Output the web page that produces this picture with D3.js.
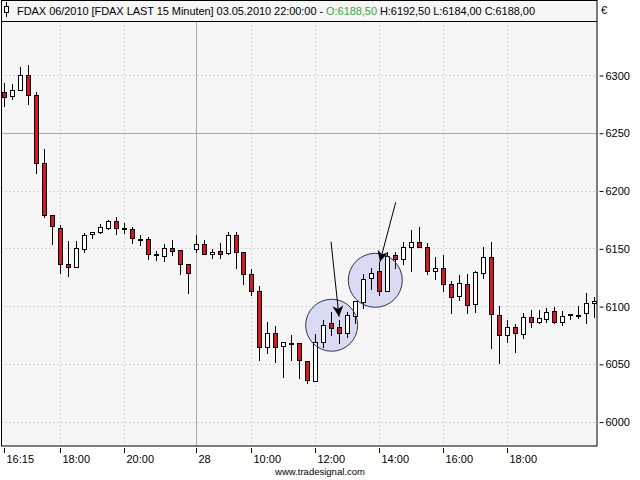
<!DOCTYPE html>
<html><head><meta charset="utf-8">
<script src="https://cdn.jsdelivr.net/npm/d3@7"></script>
<style>
body{margin:0;background:#fff}
svg{display:block}
text{font-family:"Liberation Sans",Arial,sans-serif;font-size:11px;fill:#000}
</style>
</head><body>
<svg id="c" width="640" height="480"></svg>
<script>
// ---- data ----
const times = [
 "27 16:15","27 16:30","27 16:45","27 17:00","27 17:15","27 17:30","27 17:45","27 18:00",
 "27 18:15","27 18:30","27 18:45","27 19:00","27 19:15","27 19:30","27 19:45","27 20:00",
 "27 20:15","27 20:30","27 20:45","27 21:00","27 21:15","27 21:30","27 21:45","27 22:00",
 "28 08:15","28 08:30","28 08:45","28 09:00","28 09:15","28 09:30","28 09:45","28 10:00",
 "28 10:15","28 10:30","28 10:45","28 11:00","28 11:15","28 11:30","28 11:45","28 12:00",
 "28 12:15","28 12:30","28 12:45","28 13:00","28 13:15","28 13:30","28 13:45","28 14:00",
 "28 14:15","28 14:30","28 14:45","28 15:00","28 15:15","28 15:30","28 15:45","28 16:00",
 "28 16:15","28 16:30","28 16:45","28 17:00","28 17:15","28 17:30","28 17:45","28 18:00",
 "28 18:15","28 18:30","28 18:45","28 19:00","28 19:15","28 19:30","28 19:45","28 20:00",
 "28 20:15","28 20:30","28 20:45"
];
const opens = [
 6285,6282,6287,6300,6283,6224,6179,6168,6136,6133.5,6149,6162,6164,6168,6174,6168,
 6167,6158,6157.8,6145,6143.6,6150,6148.5,6136.4,
 6149,6153.5,6145,6148,6146,6161.5,6147,6127.5,6113.3,6065,6077,6065.4,6068,6068,6052.7,6035.4,
 6069,6085,6081.6,6076.4,6091.4,6103.8,6124,6130.4,6113.3,6144.2,6140.4,6150.8,6155.7,6150.8,6130.6,6132.7,
 6118.8,6109,6118.8,6101.5,6128.4,6142.2,6092,6074.7,6081.6,6075.6,6090.3,6086,6088.8,6095.7,6086.5,6093,
 6092.5,6093.7,6102.4
];
const highs = [
 6293,6292,6307,6309,6285.5,6236,6179,6170,6156,6156,6163,6164.5,6171,6174.5,6177.5,6172,
 6168.7,6161.5,6159.5,6148,6154,6157,6148.5,6136.5,
 6161.5,6157,6149,6155,6164,6164,6147,6132,6117,6086,6083,6068.6,6075,6068,6052.7,6075.5,
 6088,6094.6,6088,6094.6,6104.4,6127.8,6132.7,6138,6147,6147,6155.7,6165.8,6168.7,6154.8,6142.7,6144.2,
 6122,6127,6127.8,6130.6,6150.8,6155.7,6100,6088,6084.5,6093.7,6096.6,6096.6,6098,6099,6096,6093.5,
 6100,6111.6,6108
];
const lows = [
 6273,6279.5,6287,6275,6215,6177,6153.5,6129,6126,6133.5,6147,6158.5,6163,6166.5,6162,6163.5,
 6155,6153,6141,6139.5,6139.3,6144.5,6128,6111,
 6147,6145,6141.3,6141.3,6145,6133,6119,6109.6,6053,6059,6052,6039,6053.3,6037.5,6033.7,6035.4,
 6065,6075,6068.3,6073.5,6085,6098,6114.5,6109.6,6113.3,6132.7,6136,6130,6150.8,6127.8,6123.4,6113.3,
 6093.7,6105.3,6094.3,6095,6124,6063.4,6051,6069.2,6060.5,6072.6,6082,6085,6086.5,6085,6083.6,6088.5,
 6090,6085.6,6090.8
];
const closes = [
 6281,6287,6300,6283,6224,6179,6169,6136,6133.5,6150,6161.5,6164.5,6168.7,6174,6168,6167.5,
 6158.6,6158,6144.8,6145,6150,6148,6136,6129,
 6153.3,6145,6147,6145,6161.5,6147,6127.5,6113.3,6065,6077,6065,6068.6,6068,6053,6036,6069.2,
 6083.4,6081.3,6076.4,6092.3,6104.4,6123.4,6129,6113.3,6143.6,6140.4,6150.8,6155.7,6150.8,6130.6,6132.7,6118.8,
 6108,6119.7,6101,6129.8,6142.2,6093,6074.7,6081.5,6076.4,6090.3,6086,6089.4,6094.6,6086.5,6091.7,6092.5,
 6092.5,6102.4,6104.4
];
const timeTicks = ["27 16:15","27 18:00","27 20:00","28 08:15","28 10:00","28 12:00","28 14:00","28 16:00","28 18:00"];
const timeTickLabels = ["16:15","18:00","20:00","28","10:00","12:00","14:00","16:00","18:00"];
const dayBreak = "28 08:15";
const priceTicks = [6000,6050,6100,6150,6200,6250,6300];
const priceLine = 6250;
// annotations (index position, price)
const circles = [{i:41.06, p:6083.4, r:26}, {i:46.53, p:6122.3, r:27}];
const arrows = [{i1:40.98, p1:6155.7, i2:41.98, p2:6090.8}, {i1:49.09, p1:6189.8, i2:47.12, p2:6138.4}];
const headerA = "FDAX 06/2010 [FDAX LAST 15 Minuten] 03.05.2010 22:00:00 - ";
const headerO = "O:6188,50";
const headerB = " H:6192,50 L:6184,00 C:6188,00";

// ---- layout ----
const L = 1.5, R = 597, T = 21.5, B = 446;
const svg = d3.select("#c");
const x = d3.scaleBand().domain(times).range([0.3, 598.3]);
const xc = t => x(t) + x.bandwidth() / 2;
const xi = i => d3.scaleLinear().domain([0, times.length - 1]).range([xc(times[0]), xc(times[times.length - 1])])(i);
const y = d3.scaleLinear().domain([6000, 6300]).range([421.6, 75]);

svg.append("defs").append("clipPath").attr("id","plot")
  .append("rect").attr("x", L).attr("y", T).attr("width", R - L).attr("height", B - T);
svg.select("defs").append("marker").attr("id","ah")
  .attr("viewBox","0 0 10 10").attr("refX",10).attr("refY",5)
  .attr("markerWidth",11).attr("markerHeight",11).attr("markerUnits","userSpaceOnUse")
  .attr("orient","auto")
  .append("path").attr("d","M0,0 L10,5 L0,10 L3,5 Z").attr("fill","#000");

// backgrounds
svg.append("rect").attr("x", L).attr("y", 0.5).attr("width", R - L).attr("height", B - 0.5).attr("fill", "#f6f6f6");

const g = svg.append("g").attr("clip-path", "url(#plot)");

// horizontal grid
g.selectAll(".hg").data(priceTicks).join("line")
  .attr("x1", L).attr("x2", R)
  .attr("y1", d => Math.round(y(d)) + 0.5).attr("y2", d => Math.round(y(d)) + 0.5)
  .attr("stroke", d => d === priceLine ? "#a9a9a9" : "#b4b4b4")
  .attr("stroke-dasharray", d => d === priceLine ? null : "1,3");
// vertical grid
g.selectAll(".vg").data(timeTicks.slice(1)).join("line")
  .attr("x1", d => Math.round(xc(d)) + 0.5).attr("x2", d => Math.round(xc(d)) + 0.5)
  .attr("y1", T).attr("y2", B)
  .attr("stroke", d => d === dayBreak ? "#a9a9a9" : "#b4b4b4")
  .attr("stroke-dasharray", d => d === dayBreak ? null : "1,3");

// circle fills (behind candles)
g.selectAll(".cf").data(circles).join("circle")
  .attr("cx", d => xi(d.i)).attr("cy", d => y(d.p)).attr("r", d => d.r)
  .attr("fill", "#d9dbf2");

// candles
const data = times.map((t, i) => ({t, o: opens[i], h: highs[i], l: lows[i], c: closes[i]}));
const cg = g.selectAll(".cd").data(data).join("g");
cg.append("line")
  .attr("x1", d => Math.round(xc(d.t)) + 0.5).attr("x2", d => Math.round(xc(d.t)) + 0.5)
  .attr("y1", d => Math.round(y(d.h))).attr("y2", d => Math.round(y(d.l)) + 1)
  .attr("stroke", "#000").attr("stroke-width", 1);
cg.append("rect")
  .attr("x", d => Math.round(xc(d.t)) - 1.5)
  .attr("width", 4)
  .attr("y", d => Math.round(y(Math.max(d.o, d.c))) + 0.5)
  .attr("height", d => Math.max(1, Math.round(y(Math.min(d.o, d.c))) - Math.round(y(Math.max(d.o, d.c)))))
  .attr("fill", d => d.c > d.o ? "#ffffff" : (d.c < d.o ? "#d7141f" : "#000"))
  .attr("stroke", "#000").attr("stroke-width", 1);

// circle outlines
g.selectAll(".co").data(circles).join("circle")
  .attr("cx", d => xi(d.i)).attr("cy", d => y(d.p)).attr("r", d => d.r)
  .attr("fill", "none").attr("stroke", "#2f3356").attr("stroke-width", 1);
// arrows
g.selectAll(".ar").data(arrows).join("line")
  .attr("x1", d => xi(d.i1)).attr("y1", d => y(d.p1))
  .attr("x2", d => xi(d.i2)).attr("y2", d => y(d.p2))
  .attr("stroke", "#000").attr("stroke-width", 1).attr("marker-end", "url(#ah)");

// frame
svg.append("rect").attr("x", L).attr("y", 0.5).attr("width", R - L).attr("height", B - 0.5)
  .attr("fill", "none").attr("stroke", "#000");
svg.append("line").attr("x1", L).attr("x2", R).attr("y1", T).attr("y2", T).attr("stroke", "#000");

// header
const hg = svg.append("g");
hg.append("line").attr("x1", 6.5).attr("x2", 6.5).attr("y1", 2).attr("y2", 17).attr("stroke", "#000");
hg.append("rect").attr("x", 4.5).attr("y", 6.5).attr("width", 4).attr("height", 6).attr("fill", "#fff").attr("stroke", "#000");
const ht = hg.append("text").attr("x", 17).attr("y", 14.5)
  .attr("textLength", 518).attr("lengthAdjust", "spacing");
ht.append("tspan").text(headerA);
ht.append("tspan").attr("fill", "#3aa83a").style("fill", "#3aa83a").text(headerO);
ht.append("tspan").text(headerB);

// right axis
const ya = d3.axisRight(y).tickValues(priceTicks).tickSize(4).tickPadding(2).tickFormat(d3.format("d"));
const yag = svg.append("g").attr("transform", `translate(${R + 2.5},0.5)`).call(ya);
yag.select(".domain").remove();
yag.selectAll("text").style("font-size", "11px");
yag.selectAll("line").attr("stroke", "#000");
svg.append("text").attr("x", 601).attr("y", 14).text("€");

// bottom axis
const xa = d3.axisBottom(x).tickValues(timeTicks).tickSize(5).tickFormat((d, i) => timeTickLabels[i]);
const xag = svg.append("g").attr("transform", `translate(0,${B + 2})`).call(xa);
xag.select(".domain").remove();
xag.selectAll("line").attr("stroke", "#000");
xag.selectAll(".tick").attr("transform", d => `translate(${Math.round(xc(d)) + 0.5},0)`);
xag.selectAll("text").attr("text-anchor", "start").attr("x", 2).attr("dy", "0.71em").attr("y", 7).style("font-size", "11px");

svg.append("text").attr("x", 320).attr("y", 475).attr("text-anchor", "middle").style("font-size", "9.5px").text("www.tradesignal.com");
</script>
</body></html>
